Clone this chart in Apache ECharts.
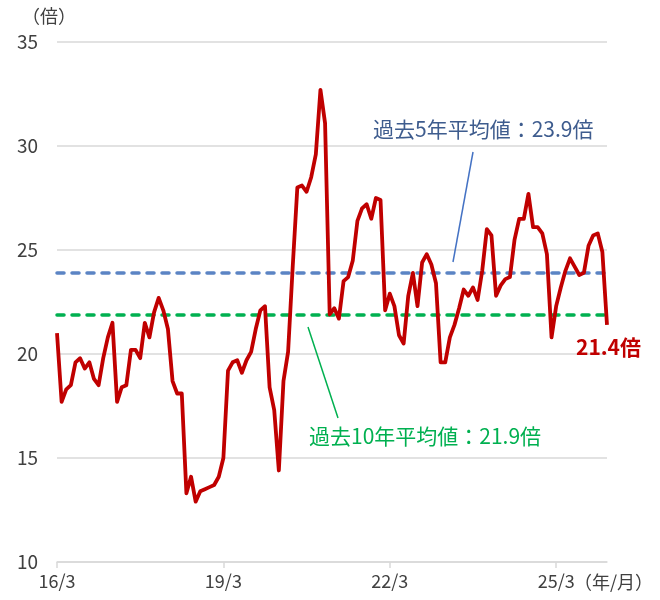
<!DOCTYPE html>
<html>
<head>
<meta charset="utf-8">
<script src="https://cdn.jsdelivr.net/npm/echarts@6/dist/echarts.min.js"></script>
<style>
  html, body { margin: 0; padding: 0; background: #fff; }
  #main { width: 660px; height: 600px; }
</style>
</head>
<body>
<div id="main"></div>
<script>
// PER (倍), monthly 2016/3 - 2026/2
const per = [
  21.0, 17.7, 18.3, 18.5, 19.6, 19.8, 19.3, 19.6, 18.8, 18.5,
  19.8, 20.8, 21.5, 17.7, 18.4, 18.5, 20.2, 20.2, 19.8, 21.5,
  20.8, 22.0, 22.7, 22.1, 21.2, 18.7, 18.1, 18.1, 13.3, 14.1,
  12.9, 13.4, 13.5, 13.6, 13.7, 14.1, 15.0, 19.2, 19.6, 19.7,
  19.1, 19.7, 20.1, 21.2, 22.1, 22.3, 18.4, 17.3, 14.4, 18.7,
  20.1, 24.2, 28.0, 28.1, 27.8, 28.5, 29.6, 32.7, 31.1, 21.9,
  22.2, 21.7, 23.5, 23.7, 24.5, 26.4, 27.0, 27.2, 26.5, 27.5,
  27.4, 22.1, 22.9, 22.3, 20.9, 20.5, 22.8, 23.9, 22.3, 24.4,
  24.8, 24.3, 23.4, 19.6, 19.6, 20.8, 21.4, 22.2, 23.1, 22.8,
  23.2, 22.6, 24.0, 26.0, 25.7, 22.8, 23.3, 23.6, 23.7, 25.5,
  26.5, 26.5, 27.7, 26.1, 26.1, 25.8, 24.8, 20.8, 22.3, 23.2,
  24.0, 24.6, 24.2, 23.8, 23.9, 25.2, 25.7, 25.8, 24.9, 21.4
]
const avg5 = 23.9
const avg10 = 21.9
const tickLabels = ["16/3", "19/3", "22/3", "25/3"]

// 16/3, 16/4, ...
const months = []
let yy = 16, mm = 3
while (months.length < per.length) {
  months.push(yy + "/" + mm)
  mm++
  if (mm > 12) { mm = 1; yy++ }
}

const font = "'Noto Sans CJK JP', 'Noto Sans', sans-serif"
const showTick = (idx, val) => tickLabels.includes(val)

const myChart = echarts.init(document.getElementById("main"))
let option = {
  animation: false,
  grid: { left: 57, right: 53, top: 42, bottom: 38 },
  xAxis: {
    type: "category",
    boundaryGap: false,
    data: months,
    axisLine: { lineStyle: { color: "#d9d9d9", width: 1.5 } },
    axisTick: { show: true, interval: showTick, length: 6, lineStyle: { color: "#d9d9d9", width: 1.5 } },
    axisLabel: {
      interval: showTick,
      color: "#404040",
      fontSize: 18,
      fontFamily: font,
      margin: 10
    },
    splitLine: { show: false }
  },
  yAxis: {
    type: "value",
    min: 10,
    max: 35,
    interval: 5,
    axisLine: { show: false },
    axisTick: { show: false },
    axisLabel: { color: "#404040", fontSize: 19, fontFamily: font, margin: 19 },
    splitLine: { lineStyle: { color: "#d9d9d9", width: 1.5 } }
  },
  series: [
    {
      type: "line",
      data: per,
      symbol: "none",
      z: 3,
      lineStyle: { color: "#c00000", width: 3.8, join: "round" },
      markLine: {
        silent: true,
        symbol: "none",
        label: { show: false },
        z: 2,
        data: [
          { yAxis: avg5, lineStyle: { color: "#5b84c4", width: 3.5, type: [7, 8], cap: "round" } },
          { yAxis: avg10, lineStyle: { color: "#00b050", width: 3.5, type: [7, 8], cap: "round" } }
        ]
      }
    }
  ]
}
myChart.setOption(option)

// annotations
const last = per.length - 1
const pEnd = myChart.convertToPixel({ gridIndex: 0 }, [last, per[last]])
myChart.setOption({
  graphic: [
    { type: "text", left: 22, top: 7, style: { text: "（倍）", fontSize: 18, fontFamily: font, fill: "#404040" } },
    { type: "text", left: 574, top: 573, style: { text: "（年/月）", fontSize: 18, fontFamily: font, fill: "#404040" } },
    { type: "line", shape: { x1: 453, y1: 262, x2: 473, y2: 152 }, style: { stroke: "#4472c4", lineWidth: 1.5 } },
    { type: "text", left: 373, top: 119, style: { text: "過去5年平均値：" + avg5 + "倍", fontSize: 21, fontFamily: font, fill: "#3e5c8e" } },
    { type: "line", shape: { x1: 308, y1: 327, x2: 338, y2: 418 }, style: { stroke: "#00b050", lineWidth: 1.5 } },
    { type: "text", left: 309, top: 426, style: { text: "過去10年平均値：" + avg10 + "倍", fontSize: 21, fontFamily: font, fill: "#00b050" } },
    { type: "text", left: pEnd[0] - 31, top: pEnd[1] + 12, style: { text: per[last] + "倍", fontSize: 21, fontWeight: "bold", fontFamily: font, fill: "#c00000" } }
  ]
})
</script>
</body>
</html>
